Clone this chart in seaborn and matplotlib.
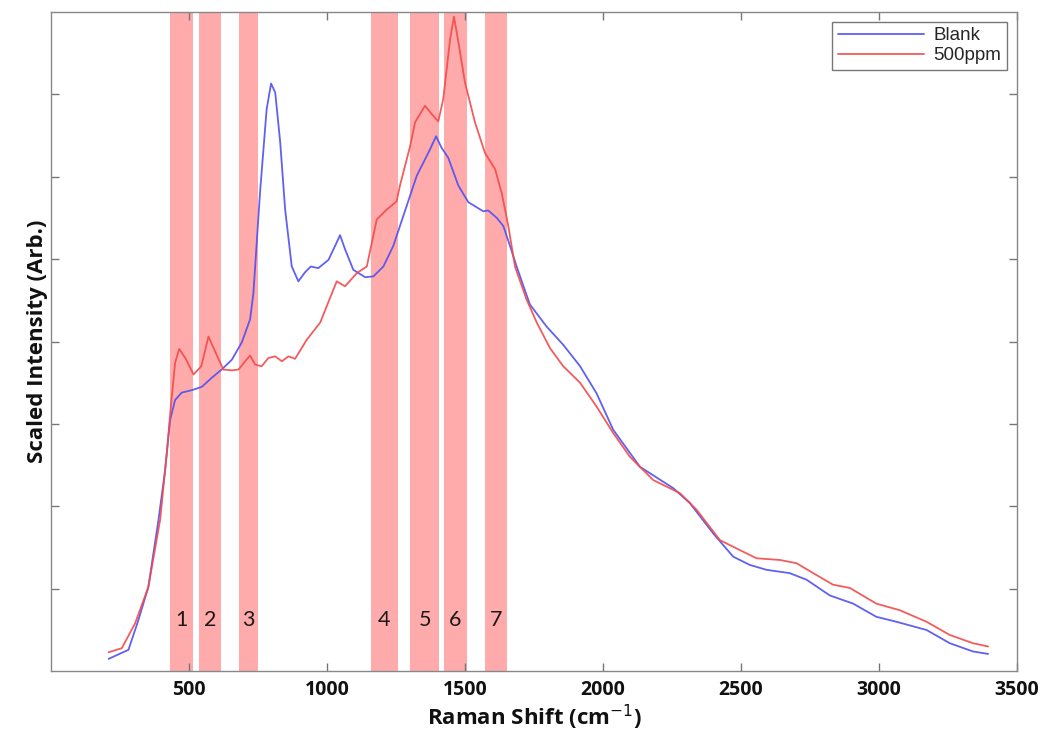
import pandas as pd
import matplotlib.pyplot as plt
import seaborn as sns

# Raman spectra (shift in cm-1, scaled intensity)
blank_shift = [208, 280, 316, 352, 389, 413, 431, 449, 473, 510, 546, 582, 618, 655,
               691, 721, 733, 757, 781, 797, 812, 830, 848, 872, 896, 920, 941, 968,
               1005, 1029, 1047, 1065, 1095, 1138, 1168, 1204, 1240, 1276, 1325, 1373,
               1395, 1415, 1439, 1476, 1512, 1566, 1584, 1615, 1639, 1663, 1687, 1735,
               1796, 1856, 1917, 1977, 2037, 2134, 2255, 2315, 2400, 2472, 2532, 2593,
               2677, 2738, 2822, 2907, 2991, 3064, 3173, 3257, 3341, 3396]
blank_int = [0.15, 0.26, 0.62, 1.02, 1.84, 2.44, 3.05, 3.29, 3.38, 3.41, 3.45, 3.56, 3.66,
             3.78, 3.99, 4.27, 4.59, 5.81, 6.82, 7.13, 7.02, 6.42, 5.60, 4.91, 4.73, 4.84,
             4.91, 4.89, 4.99, 5.16, 5.29, 5.12, 4.87, 4.78, 4.79, 4.91, 5.16, 5.52, 6.01,
             6.33, 6.49, 6.35, 6.23, 5.89, 5.69, 5.58, 5.59, 5.50, 5.40, 5.16, 4.91, 4.45,
             4.18, 3.96, 3.70, 3.37, 2.93, 2.48, 2.22, 2.04, 1.67, 1.39, 1.29, 1.23, 1.19,
             1.11, 0.92, 0.82, 0.66, 0.60, 0.50, 0.34, 0.24, 0.21]

ppm_shift = [208, 256, 304, 352, 395, 419, 435, 449, 464, 486, 516, 544, 570, 594, 624,
             655, 679, 703, 721, 739, 763, 787, 812, 836, 860, 884, 926, 975, 1035, 1065,
             1108, 1144, 1180, 1216, 1252, 1264, 1301, 1319, 1355, 1379, 1403, 1421, 1446,
             1460, 1476, 1500, 1536, 1572, 1609, 1633, 1657, 1681, 1723, 1760, 1808, 1856,
             1917, 1977, 2037, 2098, 2182, 2279, 2339, 2424, 2496, 2557, 2641, 2702, 2762,
             2834, 2895, 2991, 3076, 3173, 3257, 3341, 3396]
ppm_int = [0.23, 0.28, 0.58, 1.02, 1.84, 2.65, 3.26, 3.74, 3.91, 3.80, 3.60, 3.70, 4.06,
           3.88, 3.66, 3.65, 3.66, 3.76, 3.83, 3.72, 3.70, 3.80, 3.82, 3.76, 3.82, 3.79,
           4.02, 4.23, 4.73, 4.67, 4.83, 4.91, 5.48, 5.60, 5.70, 5.89, 6.37, 6.66, 6.86,
           6.76, 6.67, 6.94, 7.67, 7.94, 7.63, 7.14, 6.66, 6.29, 6.09, 5.80, 5.40, 4.91,
           4.51, 4.23, 3.92, 3.70, 3.50, 3.21, 2.89, 2.60, 2.32, 2.16, 1.96, 1.59, 1.47,
           1.37, 1.35, 1.31, 1.19, 1.05, 1.01, 0.82, 0.74, 0.60, 0.44, 0.34, 0.30]

# highlighted bands
band_lo = [429, 534, 679, 1158, 1301, 1424, 1571]
band_hi = [513, 616, 749, 1258, 1406, 1507, 1651]
band_labels = ['1', '2', '3', '4', '5', '6', '7']

x_ticks = [500, 1000, 1500, 2000, 2500, 3000, 3500]
y_ticks = [1, 2, 3, 4, 5, 6, 7]

sns.set_theme(style="white")
plt.rcParams['font.family'] = ['Open Sans', 'DejaVu Sans']

df = pd.concat([
    pd.DataFrame({'shift': blank_shift, 'intensity': blank_int, 'sample': 'Blank'}),
    pd.DataFrame({'shift': ppm_shift, 'intensity': ppm_int, 'sample': '500ppm'}),
])

fig, ax = plt.subplots(figsize=(10.45, 7.36), dpi=100)
fig.subplots_adjust(left=0.049, right=0.973, bottom=0.088, top=0.984)

for lo, hi, lab in zip(band_lo, band_hi, band_labels):
    ax.axvspan(lo, hi, color='#ffabab', lw=0, zorder=0)
    ax.text((lo + hi) / 2, 0.62, lab, ha='center', va='center', fontsize=15.5,
            family=['Lato', 'DejaVu Sans'], color='#1a1a1a')

sns.lineplot(data=df, x='shift', y='intensity', hue='sample', sort=False, estimator=None,
             palette={'Blank': '#4f4ff2', '500ppm': '#f24a4a'}, lw=1.3, alpha=0.9, ax=ax)

ax.set_xlim(0, 3500)
ax.set_ylim(0, 8)
ax.set_xticks(x_ticks)
ax.set_yticks(y_ticks)
ax.set_yticklabels([])
ax.tick_params(direction='in', length=6, width=1, color='#777777', top=True, right=True,
               bottom=True, left=True, pad=6)
ax.tick_params(axis='x', labelsize=14, labelcolor='#111111')
for lab in ax.get_xticklabels():
    lab.set_fontweight('bold')
for s in ax.spines.values():
    s.set_color('#888888')
    s.set_linewidth(1)

ax.set_xlabel('Raman Shift (cm$^{-1}$)', fontsize=16, fontweight='bold', labelpad=2,
              color='#111111')
ax.set_ylabel('Scaled Intensity (Arb.)', fontsize=16, fontweight='bold', labelpad=-4,
              color='#111111')

leg = ax.legend(loc='upper right', bbox_to_anchor=(0.99, 0.985), borderaxespad=0,
                fancybox=False, framealpha=1, edgecolor='#777777', handlelength=4.6,
                prop={'family': ['Liberation Sans'], 'size': 13.5}, borderpad=0.3,
                labelspacing=0.15, handletextpad=0.5)
leg.get_frame().set_linewidth(1)

plt.savefig('out.png', dpi=100)
